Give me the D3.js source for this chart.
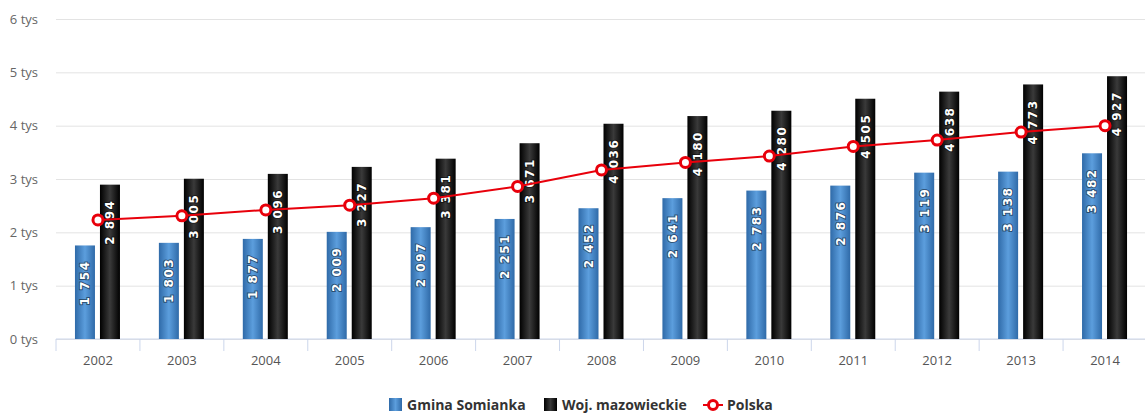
<html>
    <head>
        <style>
            body { margin: 0; background: #fff; }
            svg text { font-family: "Open Sans", sans-serif; }
        </style>
    </head>
    <body>
        <svg id="chart" width="1145" height="414"></svg>

        <script src="https://d3js.org/d3.v7.min.js"></script>
        <script>
            //Chart data
            var years = ["2002","2003","2004","2005","2006","2007","2008","2009","2010","2011","2012","2013","2014"];
            var gmina = [1754, 1803, 1877, 2009, 2097, 2251, 2452, 2641, 2783, 2876, 3119, 3138, 3482];
            var woj = [2894, 3005, 3096, 3227, 3381, 3671, 4036, 4180, 4280, 4505, 4638, 4773, 4927];
            var polska = [2232, 2310, 2420, 2510, 2640, 2860, 3170, 3310, 3430, 3610, 3730, 3880, 4000];
            var yTicks = [0, 1000, 2000, 3000, 4000, 5000, 6000];
            var seriesNames = ["Gmina Somianka", "Woj. mazowieckie", "Polska"];

            var svg = d3.select("#chart");

            var x = d3.scaleBand().domain(years).range([56, 1147]).padding(0);
            var xSub = d3.scaleBand().domain(["g", "w"]).range([-23, 22]).paddingInner(0.2);
            var y = d3.scaleLinear().domain([0, 6000]).range([339, 19]);

            function fmt(v) {
                return d3.format(",")(v).replace(",", " ");
            }

            //gradients
            var defs = svg.append("defs");
            var gBlue = defs.append("linearGradient").attr("id", "gBlue").attr("x1", 0).attr("x2", 1).attr("y1", 0).attr("y2", 0);
            gBlue.append("stop").attr("offset", "0%").attr("stop-color", "#2f6aa8");
            gBlue.append("stop").attr("offset", "50%").attr("stop-color", "#5c9edd");
            gBlue.append("stop").attr("offset", "100%").attr("stop-color", "#2f6aa8");
            var gBlack = defs.append("linearGradient").attr("id", "gBlack").attr("x1", 0).attr("x2", 1).attr("y1", 0).attr("y2", 0);
            gBlack.append("stop").attr("offset", "0%").attr("stop-color", "#000");
            gBlack.append("stop").attr("offset", "50%").attr("stop-color", "#3a3a3a");
            gBlack.append("stop").attr("offset", "100%").attr("stop-color", "#000");

            //grid + y labels
            var yAxis = d3.axisLeft(y).tickValues(yTicks).tickSize(-(1145 - 56))
                .tickFormat(function(d) { return (d / 1000) + " tys"; });
            var gy = svg.append("g").attr("transform", "translate(56,0)").call(yAxis);
            gy.select(".domain").remove();
            gy.selectAll(".tick line").attr("stroke", "#e3e3e3");
            gy.selectAll(".tick text")
                .attr("x", -18)
                .attr("fill", "#666")
                .style("font-size", "13px")
                .style("font-family", "'Open Sans', sans-serif");

            //x axis
            var gx = svg.append("g").attr("transform", "translate(0,339)");
            gx.append("line").attr("x1", 56).attr("x2", 1145).attr("stroke", "#ccd6eb");
            gx.selectAll(".xt")
                .data(years.concat(["end"]))
                .enter()
                .append("line")
                .attr("x1", function(d, i) { return 56 + i * x.step(); })
                .attr("x2", function(d, i) { return 56 + i * x.step(); })
                .attr("y1", 0)
                .attr("y2", 12)
                .attr("stroke", "#ccd6eb");
            gx.selectAll(".xl")
                .data(years)
                .enter()
                .append("text")
                .attr("x", function(d) { return x(d) + x.bandwidth() / 2; })
                .attr("y", 26)
                .attr("text-anchor", "middle")
                .attr("fill", "#555")
                .style("font-size", "13px")
                .text(function(d) { return d; });

            //bars
            function drawBars(vals, key, fill) {
                var g = svg.append("g");
                g.selectAll("rect")
                    .data(vals)
                    .enter()
                    .append("rect")
                    .attr("x", function(d, i) { return x(years[i]) + x.bandwidth() / 2 + xSub(key); })
                    .attr("y", function(d) { return y(d); })
                    .attr("width", xSub.bandwidth())
                    .attr("height", function(d) { return y(0) - y(d); })
                    .attr("fill", fill);
                g.selectAll("text")
                    .data(vals)
                    .enter()
                    .append("text")
                    .attr("transform", function(d, i) {
                        var cx = x(years[i]) + x.bandwidth() / 2 + xSub(key) + xSub.bandwidth() / 2;
                        return "translate(" + cx + "," + (y(d) + 15) + ") rotate(-90)";
                    })
                    .attr("text-anchor", "end")
                    .attr("dy", "0.36em")
                    .attr("fill", "#fff")
                    .attr("stroke", "rgba(0,0,0,0.45)")
                    .attr("stroke-width", 2)
                    .attr("paint-order", "stroke")
                    .style("font-family", "'DejaVu Sans', sans-serif")
                    .style("font-weight", "bold")
                    .style("font-size", "12px")
                    .style("letter-spacing", "1.5px")
                    .text(function(d) { return fmt(d); });
            }
            drawBars(gmina, "g", "url(#gBlue)");
            drawBars(woj, "w", "url(#gBlack)");

            //Polska line
            var line = d3.line()
                .x(function(d, i) { return x(years[i]) + x.bandwidth() / 2; })
                .y(function(d) { return y(d); });
            svg.append("path")
                .datum(polska)
                .attr("d", line)
                .attr("fill", "none")
                .attr("stroke", "#e8000b")
                .attr("stroke-width", 2);
            svg.append("g").selectAll("circle")
                .data(polska)
                .enter()
                .append("circle")
                .attr("cx", function(d, i) { return x(years[i]) + x.bandwidth() / 2; })
                .attr("cy", function(d) { return y(d); })
                .attr("r", 5)
                .attr("fill", "#fff")
                .attr("stroke", "#e8000b")
                .attr("stroke-width", 3);

            //legend
            var lg = svg.append("g").attr("transform", "translate(0,405)");
            lg.append("rect").attr("x", 389).attr("y", -7).attr("width", 13).attr("height", 13).attr("fill", "url(#gBlue)");
            lg.append("rect").attr("x", 544).attr("y", -7).attr("width", 13).attr("height", 13).attr("fill", "url(#gBlack)");
            lg.append("line").attr("x1", 703).attr("x2", 723).attr("stroke", "#e8000b").attr("stroke-width", 2);
            lg.append("circle").attr("cx", 713).attr("r", 4.5).attr("fill", "#fff").attr("stroke", "#e8000b").attr("stroke-width", 3);
            var lx = [407, 562, 727];
            lg.selectAll("text")
                .data(seriesNames)
                .enter()
                .append("text")
                .attr("x", function(d, i) { return lx[i]; })
                .attr("dy", "0.35em")
                .attr("fill", "#333")
                .style("font-size", "14px")
                .style("font-weight", "bold")
                .text(function(d) { return d; });
        </script>
    </body>
</html>
